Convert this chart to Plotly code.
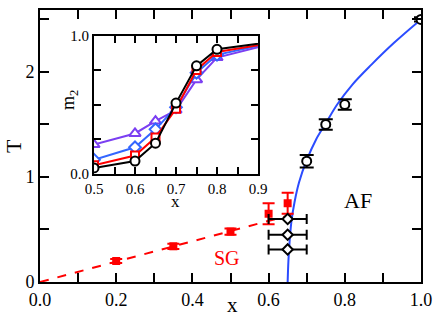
import plotly.graph_objects as go

# ---------------- main panel data ----------------
sg_x = [0.2, 0.35, 0.5, 0.6, 0.65]
sg_T = [0.20, 0.34, 0.48, 0.65, 0.75]
sg_err = [0.02, 0.025, 0.03, 0.10, 0.10]

sg_line_x = [0.0, 0.66]
sg_line_T = [0.0, 0.64]

af_x = [0.7, 0.75, 0.8, 1.0]
af_T = [1.15, 1.50, 1.69, 2.50]
af_err = [0.06, 0.05, 0.05, 0.02]

dia_x = [0.65, 0.65, 0.65]
dia_T = [0.60, 0.45, 0.31]
dia_xerr = [0.05, 0.05, 0.05]

curve_x = [0.650, 0.652, 0.655, 0.660, 0.668, 0.680, 0.700, 0.725, 0.750, 0.780, 0.820, 0.870, 0.930, 1.000]
curve_T = [0.00, 0.20, 0.38, 0.58, 0.76, 0.95, 1.16, 1.36, 1.51, 1.69, 1.88, 2.07, 2.28, 2.50]

main_xticks = [0.0, 0.2, 0.4, 0.6, 0.8, 1.0]
main_xlabels = ["0.0", "0.2", "0.4", "0.6", "0.8", "1.0"]
main_yticks = [0, 1, 2]
main_ylabels = ["0", "1", "2"]

# ---------------- inset data ----------------
in_x = [0.5, 0.6, 0.65, 0.7, 0.75, 0.8, 1.0]
m2_purple = [0.21, 0.29, 0.38, 0.46, 0.68, 0.84, 0.99]
m2_blue = [0.10, 0.19, 0.32, 0.48, 0.73, 0.86, 0.99]
m2_red = [0.06, 0.13, 0.26, 0.47, 0.75, 0.88, 0.98]
m2_black = [0.04, 0.09, 0.22, 0.51, 0.78, 0.90, 0.98]

in_xticks = [0.5, 0.6, 0.7, 0.8, 0.9]
in_xlabels = ["0.5", "0.6", "0.7", "0.8", "0.9"]
in_yticks = [0.0, 1.0]
in_ylabels = ["0.0", "1.0"]

SERIF = "Liberation Serif"
RED = "#ff0000"
BLUE = "#2b4cff"
PURPLE = "#7b3ff2"
LBLUE = "#3366ff"

fig = go.Figure()

fig.add_trace(go.Scatter(x=sg_line_x, y=sg_line_T, mode="lines",
                         line=dict(color=RED, width=2, dash="dash"),
                         showlegend=False, hoverinfo="skip"))
fig.add_trace(go.Scatter(x=curve_x, y=curve_T, mode="lines",
                         line=dict(color=BLUE, width=2, shape="spline"),
                         showlegend=False, hoverinfo="skip"))
fig.add_trace(go.Scatter(x=sg_x, y=sg_T, mode="markers",
                         marker=dict(symbol="square", size=8, color=RED),
                         error_y=dict(type="data", array=sg_err, color=RED, thickness=2, width=6),
                         showlegend=False))
fig.add_trace(go.Scatter(x=dia_x, y=dia_T, mode="markers",
                         marker=dict(symbol="diamond", size=8, color="white",
                                     line=dict(color="black", width=2)),
                         error_x=dict(type="data", array=dia_xerr, color="black", thickness=2, width=5),
                         showlegend=False))
fig.add_trace(go.Scatter(x=af_x, y=af_T, mode="markers",
                         marker=dict(symbol="circle", size=9, color="white",
                                     line=dict(color="black", width=2)),
                         error_y=dict(type="data", array=af_err, color="black", thickness=2, width=7),
                         showlegend=False))

def inset_trace(y, color, symbol, size=9):
    return go.Scatter(x=in_x, y=y, mode="lines+markers", xaxis="x2", yaxis="y2",
                      line=dict(color=color, width=2),
                      marker=dict(symbol=symbol, size=size, color="white",
                                  line=dict(color=color, width=2)),
                      showlegend=False)

fig.add_trace(inset_trace(m2_purple, PURPLE, "triangle-up", 10))
fig.add_trace(inset_trace(m2_blue, LBLUE, "diamond", 9))
fig.add_trace(inset_trace(m2_red, RED, "square", 8))
fig.add_trace(inset_trace(m2_black, "black", "circle", 9))

fig.add_annotation(x=0.835, y=0.78, text="AF", showarrow=False,
                   xanchor="center", yanchor="middle",
                   font=dict(family=SERIF, size=22, color="black"))
fig.add_annotation(x=0.49, y=0.23, text="SG", showarrow=False,
                   xanchor="center", yanchor="middle",
                   font=dict(family=SERIF, size=20, color=RED))

# axis titles placed in paper pixels
W, H = 436, 317
L, R, T, B = 40, 15, 10, 35
pw, ph = W - L - R, H - T - B

def px(xp):
    return (xp - L) / pw

def py(yp):
    return (H - B - yp) / ph

def label(xp, yp, text, size, angle=0):
    fig.add_annotation(xref="paper", yref="paper", x=px(xp), y=py(yp), text=text,
                       textangle=angle, showarrow=False, xanchor="center", yanchor="middle",
                       font=dict(family=SERIF, size=size, color="black"))

label(232, 305, "x", 21)
label(13, 146, "T", 22, -90)
label(175, 202, "x", 17)
label(69, 100, "m<sub>2</sub>", 18, -90)

axis_common = dict(showgrid=False, zeroline=False, showline=True, linecolor="black",
                   linewidth=2, mirror="ticks", ticks="inside", tickcolor="black",
                   tickwidth=2, automargin=False)

fig.update_layout(
    width=W, height=H,
    margin=dict(l=L, r=R, t=T, b=B, autoexpand=False),
    paper_bgcolor="white", plot_bgcolor="white",
    font=dict(family=SERIF, color="black"),
    xaxis=dict(**axis_common, range=[0, 1.0], tickvals=main_xticks, ticktext=main_xlabels,
               ticklen=9, tickfont=dict(size=18),
               minor=dict(dtick=0.1, tick0=0, ticks="inside", ticklen=9, tickwidth=2, tickcolor="black")),
    yaxis=dict(**axis_common, range=[0, 2.59], tickvals=main_yticks, ticktext=main_ylabels,
               ticklen=9, tickfont=dict(size=18),
               minor=dict(dtick=0.5, tick0=0, ticks="inside", ticklen=9, tickwidth=2, tickcolor="black")),
    xaxis2=dict(**axis_common, domain=[px(94), px(258)], anchor="y2", range=[0.5, 0.9],
                tickvals=in_xticks, ticktext=in_xlabels, ticklen=7, tickfont=dict(size=15),
                minor=dict(dtick=0.05, tick0=0.5, ticks="inside", ticklen=7, tickwidth=2, tickcolor="black")),
    yaxis2=dict(**axis_common, domain=[py(173.5), py(35.5)], anchor="x2", range=[0, 1.0],
                tickvals=in_yticks, ticktext=in_ylabels, ticklen=7, tickfont=dict(size=15),
                minor=dict(dtick=0.25, tick0=0, ticks="inside", ticklen=7, tickwidth=2, tickcolor="black")),
)

fig.write_html("out.html", config={"displayModeBar": False})

# remove the browser's default body margin so the figure sits at the page origin
with open("out.html", "r", encoding="utf-8") as f:
    html = f.read()
html = html.replace("<body>", '<body style="margin:0;">', 1)
with open("out.html", "w", encoding="utf-8") as f:
    f.write(html)
